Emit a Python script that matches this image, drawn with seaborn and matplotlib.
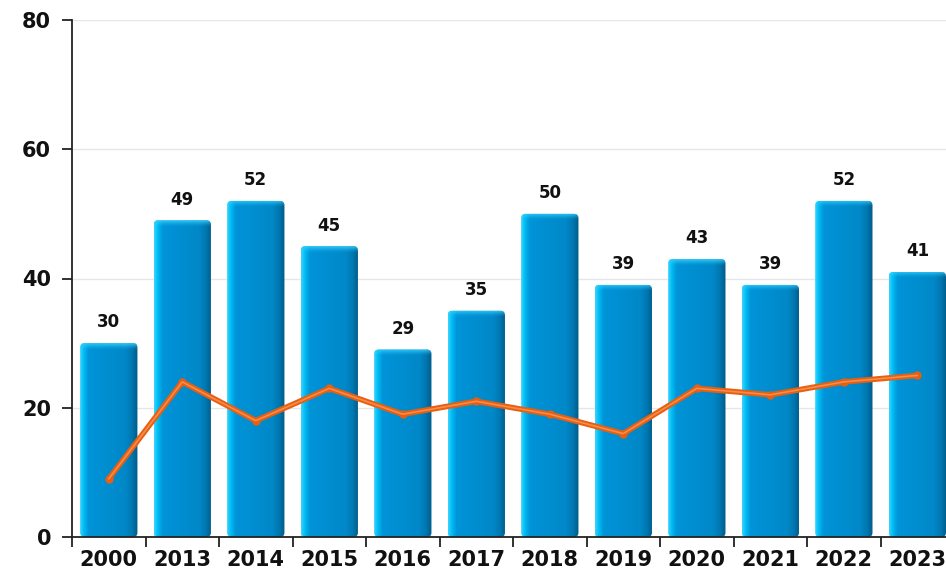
import numpy as np
import pandas as pd
import matplotlib
matplotlib.use("Agg")
import matplotlib.pyplot as plt
from matplotlib.colors import LinearSegmentedColormap
from matplotlib.patches import FancyBboxPatch
import seaborn as sns

# data
years = ["2000", "2013", "2014", "2015", "2016", "2017", "2018", "2019", "2020", "2021", "2022", "2023"]
bar_values = [30, 49, 52, 45, 29, 35, 50, 39, 43, 39, 52, 41]
line_values = [9, 24, 18, 23, 19, 21, 19, 16, 23, 22, 24, 25]

df = pd.DataFrame({"year": years, "bars": bar_values, "line": line_values})

sns.set_style("white")
plt.rcParams["font.family"] = ["DejaVu Sans"]

fig = plt.figure(figsize=(9.46, 5.71), dpi=100)
ax = fig.add_axes([72 / 946, 1 - 537 / 571, 1 - 72 / 946, (537 - 20) / 571])

sns.barplot(data=df, x="year", y="bars", color="#0088cc", width=0.78,
            saturation=1, ax=ax, zorder=2)

ax.set_xlim(-0.5, 11.39)
ax.set_ylim(0, 80)

# horizontal gradient for the bar bodies
body = LinearSegmentedColormap.from_list("body", [
    (0.0, "#3fd4ff"), (0.06, "#00bff5"), (0.15, "#0094d8"),
    (0.78, "#0088c8"), (0.9, "#0077b0"), (1.0, "#005a86")])
grad = np.linspace(0, 1, 256).reshape(1, -1)

# top cap: light cyan fading downwards
cap = np.zeros((64, 1, 4))
cap[..., 0] = 0.2
cap[..., 1] = 0.82
cap[..., 2] = 1.0
cap[:, 0, 3] = np.linspace(0.0, 0.95, 64) ** 1.5

for p in list(ax.patches):
    x0, y0 = p.get_x(), p.get_y()
    w, h = p.get_width(), p.get_height()
    p.set_visible(False)
    shape = FancyBboxPatch((x0, y0), w, h, boxstyle="round,pad=0,rounding_size=0.06",
                           mutation_aspect=11.5, transform=ax.transData,
                           facecolor="none", edgecolor="none")
    ax.add_patch(shape)
    im = ax.imshow(grad, cmap=body, aspect="auto", extent=[x0, x0 + w, y0, y0 + h],
                   zorder=2, interpolation="bicubic")
    im.set_clip_path(shape)
    im2 = ax.imshow(cap, aspect="auto", extent=[x0, x0 + w, y0 + h - 1.0, y0 + h],
                    zorder=2.1, interpolation="bicubic", origin="lower")
    im2.set_clip_path(shape)

for i, v in enumerate(bar_values):
    ax.text(i, v + 1.8, str(v), ha="center", va="bottom", fontsize=12,
            fontweight="bold", color="#111111", zorder=5)

# line series
sns.lineplot(x=np.arange(len(years)), y=df["line"], ax=ax, color="#e85f10",
             linewidth=4, marker="o", markersize=6, markeredgewidth=0, zorder=4)
sns.lineplot(x=np.arange(len(years)), y=df["line"], ax=ax, color="#f78c4c",
             linewidth=1.2, zorder=4.1)

ax.set_xlim(-0.5, 11.39)
ax.set_ylim(0, 80)
ax.set_yticks([0, 20, 40, 60, 80])
ax.set_xticks(range(len(years)))
ax.set_xticklabels(years)
ax.set_xticks(np.arange(-0.5, 11.5, 1), minor=True)
ax.set_xlabel("")
ax.set_ylabel("")

ax.grid(axis="y", color="#e6e6e6", linewidth=1, zorder=0)
ax.set_axisbelow(True)
for s in ["top", "right"]:
    ax.spines[s].set_visible(False)
for s in ["left", "bottom"]:
    ax.spines[s].set_color("#222222")
    ax.spines[s].set_linewidth(1.3)

ax.tick_params(axis="x", which="major", bottom=False, length=0, pad=9, labelsize=15)
ax.tick_params(axis="x", which="minor", bottom=True, length=7, width=1.3,
               color="#222222", direction="out")
ax.tick_params(axis="y", left=True, length=7, width=1.3, color="#222222",
               direction="out", labelsize=15, pad=8)
for lab in ax.get_xticklabels() + ax.get_yticklabels():
    lab.set_fontweight("bold")
    lab.set_color("#111111")

fig.savefig("out.png", dpi=100)
